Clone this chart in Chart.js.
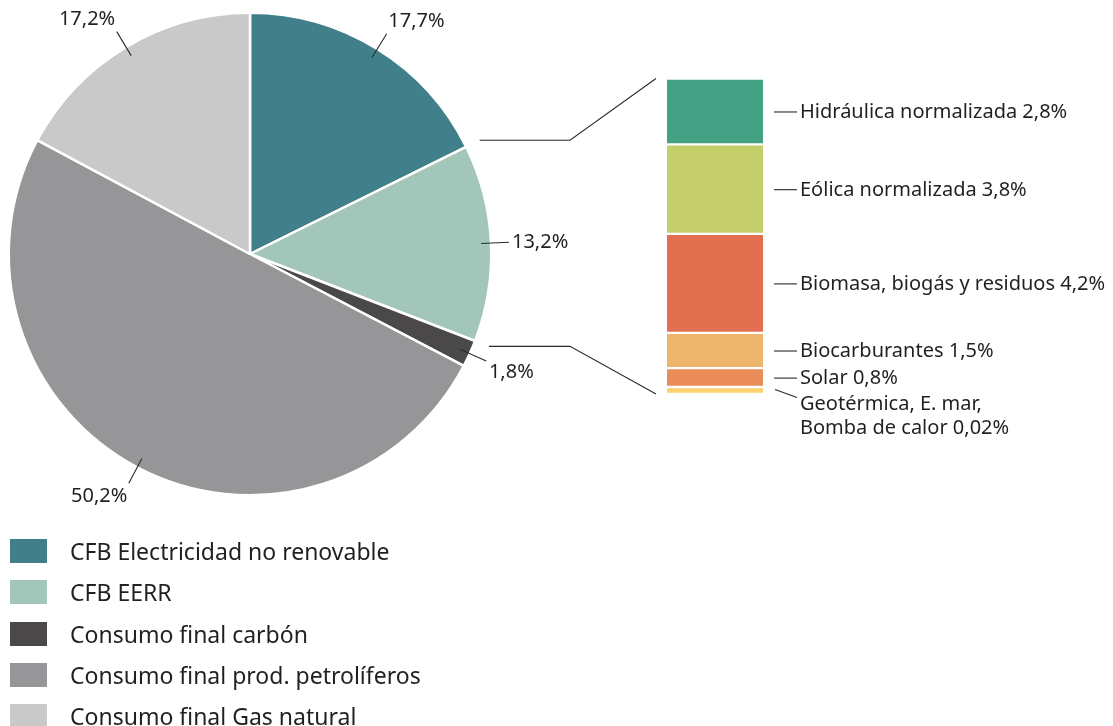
<!DOCTYPE html>
<html>
<head>
<meta charset="utf-8">
<script src="https://cdn.jsdelivr.net/npm/chart.js@4.4.1/dist/chart.umd.min.js"></script>
<style>
  html, body { margin: 0; padding: 0; background: #fff; }
  #wrap { position: relative; width: 1113px; height: 726px; overflow: hidden; }
  canvas { position: absolute; left: 0; top: 0; }
  #legend { position: absolute; left: 0; top: 0; width: 1113px; height: 726px; pointer-events: none; }
  .li { position: absolute; left: 10px; height: 24px; font-family: "Noto Sans", sans-serif; font-size: 23px; color: #231f20; }
  .li .sw { position: absolute; left: 0; top: 0; width: 37px; height: 24px; }
  .li .tx { position: absolute; left: 60px; top: -3px; white-space: nowrap; line-height: 30px; }
</style>
</head>
<body>
<div id="wrap">
  <canvas id="pie" width="1113" height="726"></canvas>
  <canvas id="bar" width="1113" height="726"></canvas>
  <div id="legend"></div>
</div>
<script>
// ---- data ----
const pieCategories = ["CFB Electricidad no renovable", "CFB EERR", "Consumo final carbón", "Consumo final prod. petrolíferos", "Consumo final Gas natural"];
const pieValues = [17.7, 13.2, 1.8, 50.2, 17.2];
const pieColors = ["#417f8a", "#a2c7ba", "#4a4849", "#969698", "#c9c9c9"];

const renewCategories = [["Hidráulica normalizada"], ["Eólica normalizada"], ["Biomasa, biogás y residuos"], ["Biocarburantes"], ["Solar"], ["Geotérmica, E. mar,", "Bomba de calor"]];
const renewValues = [2.8, 3.8, 4.2, 1.5, 0.8, 0.02];
const renewColors = ["#43a083", "#c4cf6b", "#e27050", "#edb46b", "#e98c58", "#fdd06e"];

const FONT = '"Noto Sans", sans-serif';
const TEXT = '#231f20';
const fmt = v => String(v).replace('.', ',') + '%';

// ---- pie labels plugin ----
const pieLabels = {
  id: 'pieLabels',
  afterDatasetsDraw(chart) {
    const ctx = chart.ctx;
    const meta = chart.getDatasetMeta(0);
    ctx.save();
    ctx.font = '20px ' + FONT;
    ctx.fillStyle = TEXT;
    ctx.strokeStyle = '#2b2b2b';
    ctx.lineWidth = 1.1;
    meta.data.forEach((arc, i) => {
      const mid = (arc.startAngle + arc.endAngle) / 2;
      const c = Math.cos(mid), s = Math.sin(mid);
      const r1 = arc.outerRadius - 10, r2 = arc.outerRadius + 18;
      ctx.beginPath();
      ctx.moveTo(arc.x + c * r1, arc.y + s * r1);
      ctx.lineTo(arc.x + c * r2, arc.y + s * r2);
      ctx.stroke();
      const px = arc.x + c * (r2 + 3), py = arc.y + s * (r2 + 3);
      ctx.textAlign = c > 0.3 ? 'left' : (c < -0.3 ? 'right' : 'center');
      ctx.textBaseline = s < -0.3 ? 'bottom' : (s > 0.3 ? 'top' : 'middle');
      ctx.fillText(fmt(pieValues[i]), px, py);
    });
    ctx.restore();
  }
};

const pieChart = new Chart(document.getElementById('pie'), {
  type: 'pie',
  data: {
    labels: pieCategories,
    datasets: [{
      data: pieValues,
      backgroundColor: pieColors,
      borderColor: '#ffffff',
      borderWidth: 2.5
    }]
  },
  options: {
    responsive: false,
    animation: false,
    devicePixelRatio: 1,
    layout: { padding: { left: 7.5, top: 11.5, right: 620.5, bottom: 229.5 } },
    plugins: { legend: { display: false }, tooltip: { enabled: false } }
  },
  plugins: [pieLabels]
});

// ---- bar labels + connector plugin ----
const barLabels = {
  id: 'barLabels',
  afterDatasetsDraw(chart) {
    const ctx = chart.ctx;
    ctx.save();
    ctx.font = '20px ' + FONT;
    ctx.fillStyle = TEXT;
    ctx.strokeStyle = '#2b2b2b';
    ctx.lineWidth = 1.1;
    let barLeft = 0, barTop = Infinity, barBottom = -Infinity;
    chart.data.datasets.forEach((ds, i) => {
      const el = chart.getDatasetMeta(i).data[0];
      const right = el.x + el.width / 2;
      barLeft = el.x - el.width / 2;
      const top = Math.min(el.y, el.base), bot = Math.max(el.y, el.base);
      barTop = Math.min(barTop, top);
      barBottom = Math.max(barBottom, bot);
      const cy = (top + bot) / 2;
      const lines = renewCategories[i].slice();
      lines[lines.length - 1] = lines[lines.length - 1] + ' ' + fmt(renewValues[i]);
      ctx.textAlign = 'left';
      ctx.textBaseline = 'middle';
      if (lines.length === 1) {
        ctx.beginPath();
        ctx.moveTo(right + 11, cy + 0.5);
        ctx.lineTo(right + 34, cy + 0.5);
        ctx.stroke();
        ctx.fillText(lines[0], right + 37, cy + 1);
      } else {
        ctx.beginPath();
        ctx.moveTo(right + 12, cy - 1);
        ctx.lineTo(right + 34, cy + 7);
        ctx.stroke();
        lines.forEach((t, k) => ctx.fillText(t, right + 37, cy + 14 + k * 24));
      }
    });
    // connectors from the CFB EERR slice to the bar
    const arc = pieChart.getDatasetMeta(0).data[1];
    const rr = arc.outerRadius + 15;
    const p1 = { x: arc.x + Math.cos(arc.startAngle) * rr, y: arc.y + Math.sin(arc.startAngle) * rr };
    const p2 = { x: arc.x + Math.cos(arc.endAngle) * rr, y: arc.y + Math.sin(arc.endAngle) * rr };
    const elbowX = 570;
    ctx.beginPath();
    ctx.moveTo(p1.x, p1.y); ctx.lineTo(elbowX, p1.y); ctx.lineTo(barLeft - 11, barTop);
    ctx.moveTo(p2.x, p2.y); ctx.lineTo(elbowX, p2.y); ctx.lineTo(barLeft - 11, barBottom);
    ctx.stroke();
    ctx.restore();
  }
};

new Chart(document.getElementById('bar'), {
  type: 'bar',
  data: {
    labels: [''],
    datasets: renewValues.map((v, i) => ({
      label: renewCategories[i].join(' '),
      data: [v],
      backgroundColor: renewColors[i],
      borderColor: '#ffffff',
      borderWidth: { top: 1.5, bottom: 1.5, left: 0, right: 0 },
      borderSkipped: false,
      barPercentage: 1,
      categoryPercentage: 1,
      minBarLength: 7,
      clip: false
    }))
  },
  options: {
    responsive: false,
    animation: false,
    devicePixelRatio: 1,
    layout: { padding: { left: 667, right: 350, top: 78.5, bottom: 338.5 } },
    scales: {
      x: { stacked: true, display: false },
      y: { stacked: true, display: false, reverse: true, min: 0, max: renewValues.reduce((a, b) => a + b, 0) }
    },
    plugins: { legend: { display: false }, tooltip: { enabled: false } }
  },
  plugins: [barLabels]
});

// ---- HTML legend ----
const leg = document.getElementById('legend');
pieCategories.forEach((name, i) => {
  const d = document.createElement('div');
  d.className = 'li';
  d.style.top = (539 + i * 41.3) + 'px';
  d.innerHTML = '<div class="sw" style="background:' + pieColors[i] + '"></div><div class="tx"></div>';
  d.querySelector('.tx').textContent = name;
  leg.appendChild(d);
});
</script>
</body>
</html>
